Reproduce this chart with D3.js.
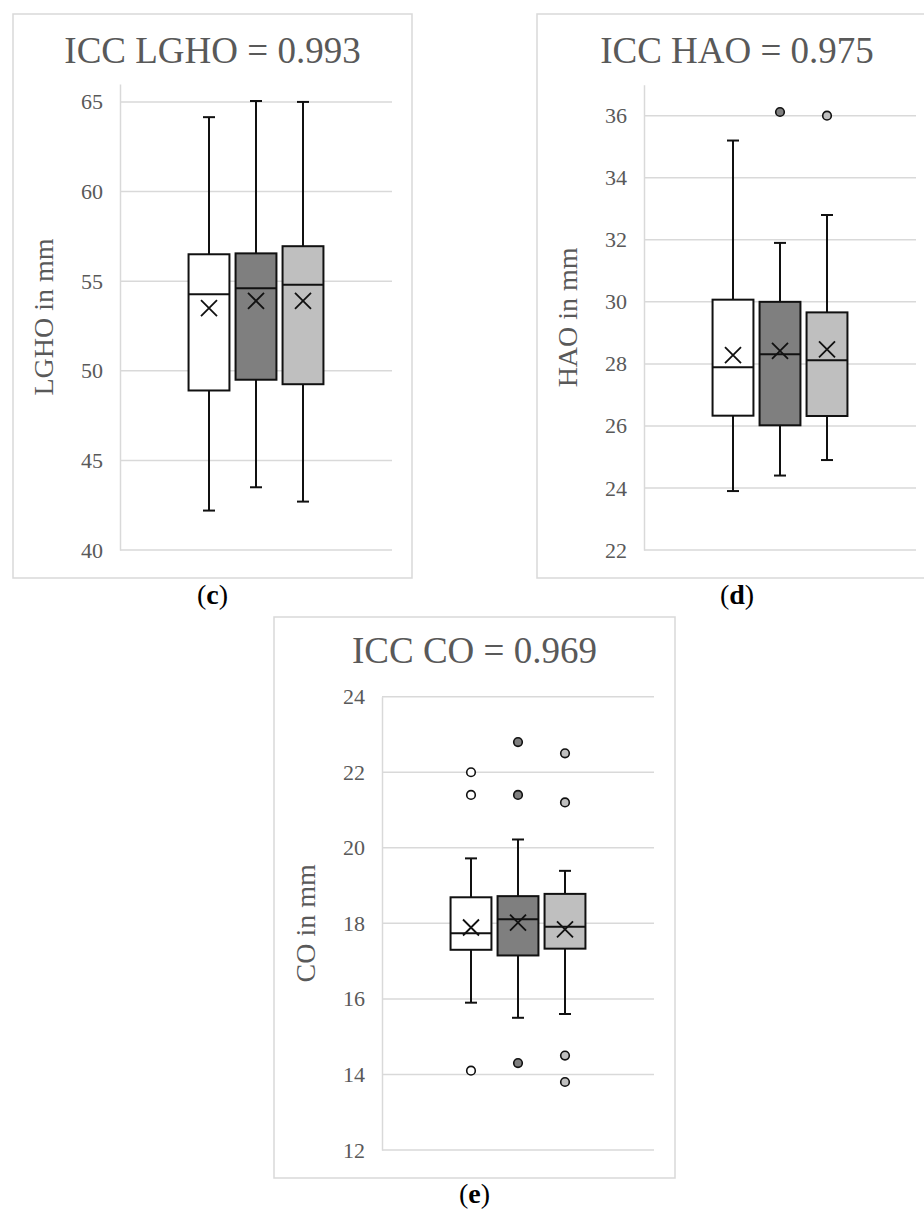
<!DOCTYPE html>
<html>
<head>
<meta charset="utf-8">
<script src="https://cdn.jsdelivr.net/npm/d3@7/dist/d3.min.js"></script>
<style>
  html, body { margin: 0; padding: 0; background: #fff; }
  svg { display: block; }
</style>
</head>
<body>
<svg id="chart" width="924" height="1212"></svg>
<script>
// ---------- data ----------
const seriesKeys = ["Series 1", "Series 2", "Series 3"];

const panelTitles = ["ICC LGHO = 0.993", "ICC HAO = 0.975", "ICC CO = 0.969"];
const axisLabels = ["LGHO in mm", "HAO in mm", "CO in mm"];
const panelLetters = ["c", "d", "e"];

const lghoDomain = [40, 66];
const lghoTicks = [40, 45, 50, 55, 60, 65];
const lghoMin = [42.2, 43.5, 42.7];
const lghoQ1 = [48.9, 49.5, 49.25];
const lghoMedian = [54.27, 54.6, 54.8];
const lghoQ3 = [56.5, 56.55, 56.95];
const lghoMax = [64.15, 65.05, 65.0];
const lghoMean = [53.5, 53.9, 53.9];
const lghoOutliers = [[], [], []];

const haoDomain = [22, 37];
const haoTicks = [22, 24, 26, 28, 30, 32, 34, 36];
const haoMin = [23.9, 24.4, 24.9];
const haoQ1 = [26.33, 26.02, 26.32];
const haoMedian = [27.89, 28.31, 28.12];
const haoQ3 = [30.07, 30.0, 29.66];
const haoMax = [35.2, 31.9, 32.8];
const haoMean = [28.28, 28.42, 28.47];
const haoOutliers = [[], [36.12], [36.0]];

const coDomain = [12, 24];
const coTicks = [12, 14, 16, 18, 20, 22, 24];
const coMin = [15.9, 15.5, 15.6];
const coQ1 = [17.3, 17.15, 17.33];
const coMedian = [17.74, 18.11, 17.91];
const coQ3 = [18.69, 18.72, 18.78];
const coMax = [19.72, 20.22, 19.39];
const coMean = [17.89, 18.02, 17.84];
const coOutliers = [[22.0, 21.4, 14.1], [22.8, 21.4, 14.3], [22.5, 21.2, 14.5, 13.8]];

// ---------- styles / layout ----------
const fills = ["#ffffff", "#7f7f7f", "#bfbfbf"];
const gridColor = "#d9d9d9";
const textColor = "#595959";
const serif = "'Liberation Serif', 'Times New Roman', serif";

const panels = [
  { title: panelTitles[0], label: axisLabels[0], letter: panelLetters[0],
    domain: lghoDomain, ticks: lghoTicks,
    stats: { min: lghoMin, q1: lghoQ1, med: lghoMedian, q3: lghoQ3, max: lghoMax, mean: lghoMean, out: lghoOutliers },
    frame: { x: 13, y: 14, w: 399, h: 564 }, plot: { l: 120, r: 392, t: 84, b: 550 }, titleY: 63, letterY: 604 },
  { title: panelTitles[1], label: axisLabels[1], letter: panelLetters[1],
    domain: haoDomain, ticks: haoTicks,
    stats: { min: haoMin, q1: haoQ1, med: haoMedian, q3: haoQ3, max: haoMax, mean: haoMean, out: haoOutliers },
    frame: { x: 537, y: 14, w: 400, h: 564 }, plot: { l: 644, r: 916, t: 84.7, b: 550 }, titleY: 63, letterY: 604 },
  { title: panelTitles[2], label: axisLabels[2], letter: panelLetters[2],
    domain: coDomain, ticks: coTicks,
    stats: { min: coMin, q1: coQ1, med: coMedian, q3: coQ3, max: coMax, mean: coMean, out: coOutliers },
    frame: { x: 274, y: 617, w: 401, h: 561 }, plot: { l: 382, r: 654, t: 696.7, b: 1150 }, titleY: 663, letterY: 1203 }
];

const svg = d3.select("#chart");
svg.append("rect").attr("width", 924).attr("height", 1212).attr("fill", "#fff");

panels.forEach(p => {
  const g = svg.append("g");
  // frame
  g.append("rect").attr("x", p.frame.x).attr("y", p.frame.y)
    .attr("width", p.frame.w).attr("height", p.frame.h)
    .attr("fill", "#fff").attr("stroke", gridColor).attr("stroke-width", 1.5);

  // title
  g.append("text").attr("x", p.frame.x + p.frame.w / 2).attr("y", p.titleY)
    .attr("text-anchor", "middle").attr("font-family", serif).attr("font-size", 37)
    .attr("fill", textColor).text(p.title);

  const y = d3.scaleLinear().domain(p.domain).range([p.plot.b, p.plot.t]);
  const center = (p.plot.l + p.plot.r) / 2;
  const step = 47;
  const x = d3.scaleBand().domain(seriesKeys)
    .range([center - 1.5 * step, center + 1.5 * step])
    .paddingInner(0.13).paddingOuter(0.065);

  // gridlines
  g.append("g").selectAll("line").data(p.ticks).join("line")
    .attr("x1", p.plot.l).attr("x2", p.plot.r)
    .attr("y1", d => y(d)).attr("y2", d => y(d))
    .attr("stroke", gridColor).attr("stroke-width", 1.5);

  // y axis
  const axis = d3.axisLeft(y).tickValues(p.ticks).tickSize(0).tickPadding(17).tickFormat(d3.format("d"));
  const ag = g.append("g").attr("transform", `translate(${p.plot.l},0)`).call(axis);
  ag.select(".domain").attr("stroke", gridColor).attr("stroke-width", 1.5);
  ag.selectAll("text").attr("font-family", serif).attr("font-size", 22).attr("fill", textColor);

  // axis label
  g.append("text")
    .attr("transform", `translate(${p.plot.l - 77},${(p.plot.t + p.plot.b) / 2}) rotate(-90)`)
    .attr("text-anchor", "middle").attr("dominant-baseline", "central")
    .attr("font-family", serif).attr("font-size", 28).attr("fill", textColor).text(p.label);

  // boxes
  seriesKeys.forEach((k, i) => {
    const s = p.stats;
    const cx = x(k) + x.bandwidth() / 2;
    const bw = x.bandwidth();
    const bg = g.append("g");
    bg.append("line").attr("x1", cx).attr("x2", cx).attr("y1", y(s.min[i])).attr("y2", y(s.max[i]))
      .attr("stroke", "#111").attr("stroke-width", 2);
    [s.min[i], s.max[i]].forEach(v => {
      bg.append("line").attr("x1", cx - 6).attr("x2", cx + 6).attr("y1", y(v)).attr("y2", y(v))
        .attr("stroke", "#111").attr("stroke-width", 2);
    });
    bg.append("rect").attr("x", x(k)).attr("y", y(s.q3[i]))
      .attr("width", bw).attr("height", y(s.q1[i]) - y(s.q3[i]))
      .attr("fill", fills[i]).attr("stroke", "#111").attr("stroke-width", 2);
    bg.append("line").attr("x1", x(k)).attr("x2", x(k) + bw).attr("y1", y(s.med[i])).attr("y2", y(s.med[i]))
      .attr("stroke", "#111").attr("stroke-width", 2);
    const my = y(s.mean[i]), m = 8;
    bg.append("path").attr("d", `M${cx - m},${my - m}L${cx + m},${my + m}M${cx - m},${my + m}L${cx + m},${my - m}`)
      .attr("stroke", "#111").attr("stroke-width", 1.8).attr("fill", "none");
    bg.selectAll("circle").data(s.out[i]).join("circle")
      .attr("cx", cx).attr("cy", d => y(d)).attr("r", 4.3)
      .attr("fill", fills[i]).attr("stroke", "#111").attr("stroke-width", 1.6);
  });

  // panel letter
  const lt = svg.append("text").attr("x", p.frame.x + p.frame.w / 2).attr("y", p.letterY)
    .attr("text-anchor", "middle").attr("font-family", serif).attr("font-size", 28).attr("fill", "#000");
  lt.append("tspan").text("(");
  lt.append("tspan").attr("font-weight", "bold").text(p.letter);
  lt.append("tspan").text(")");
});
</script>
</body>
</html>
